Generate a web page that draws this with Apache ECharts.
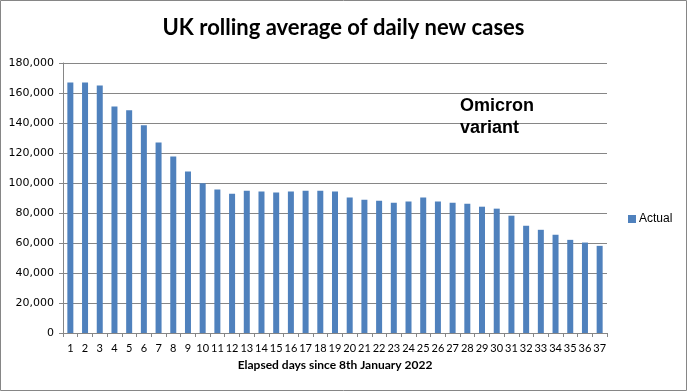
<!DOCTYPE html>
<html><head><meta charset="utf-8">
<script src="https://cdn.jsdelivr.net/npm/echarts@6/dist/echarts.min.js"></script>
<style>html,body{margin:0;padding:0;background:#fff}#c{width:687px;height:391px}</style>
</head><body><div id="c"></div>
<script>
const days = ['1','2','3','4','5','6','7','8','9','10','11','12','13','14','15','16','17','18','19','20','21','22','23','24','25','26','27','28','29','30','31','32','33','34','35','36','37'];
const actual = [167000,167000,165000,151000,148500,138500,127000,117700,107700,99900,95600,92900,94900,94300,93600,94300,94900,94900,94300,90300,88900,88200,86900,87600,90300,87600,86900,86200,84200,82900,78200,71500,68800,65500,62100,60300,58100];
const yTicks = [0,20000,40000,60000,80000,100000,120000,140000,160000,180000];

const chart = echarts.init(document.getElementById('c'), null, {renderer:'canvas'});
chart.setOption({
  animation:false,
  backgroundColor:'#fff',
  title:[
    {text:'UK rolling average of daily new cases', left:'center', top:12,
     textStyle:{fontFamily:'Lato', fontWeight:'bold', fontSize:22, color:'#000'}},
    {text:'Omicron\nvariant', left:455, top:90,
     textStyle:{fontFamily:'Liberation Sans', fontWeight:'bold', fontSize:18, color:'#000', lineHeight:22}}
  ],
  graphic:[{type:'rect', shape:{x:0.5,y:0.5,width:686,height:390}, style:{fill:'none', stroke:'#868686', lineWidth:1}, silent:true}],
  legend:{
    data:['Actual'], left:623, top:208, orient:'vertical', icon:'rect', itemWidth:8, itemHeight:8, itemGap:4,
    textStyle:{fontFamily:'Liberation Sans', fontSize:12, color:'#000', padding:[0,0,0,-2]}
  },
  grid:{left:63, right:80, top:63, bottom:58, containLabel:false},
  xAxis:{
    type:'category', data:days,
    name:'Elapsed days since 8th January 2022', nameLocation:'middle', nameGap:26,
    nameTextStyle:{fontFamily:'Lato', fontWeight:'bold', fontSize:12, color:'#000'},
    axisLine:{lineStyle:{color:'#868686'}},
    axisTick:{show:true, alignWithLabel:false, length:4, lineStyle:{color:'#868686'}},
    axisLabel:{interval:0, fontFamily:'Lato', fontSize:11, color:'#000', margin:10}
  },
  yAxis:{
    type:'value', min:0, max:180000, interval:20000,
    axisLine:{show:true, lineStyle:{color:'#868686'}},
    axisTick:{show:true, length:4, lineStyle:{color:'#868686'}},
    splitLine:{lineStyle:{color:'#868686'}},
    axisLabel:{fontFamily:'DejaVu Sans', fontSize:11, color:'#000', margin:9,
      formatter:v=>v.toLocaleString('en-US')}
  },
  series:[{name:'Actual', type:'bar', data:actual, barWidth:6, itemStyle:{color:'#4F81BD'}}]
});
</script></body></html>
